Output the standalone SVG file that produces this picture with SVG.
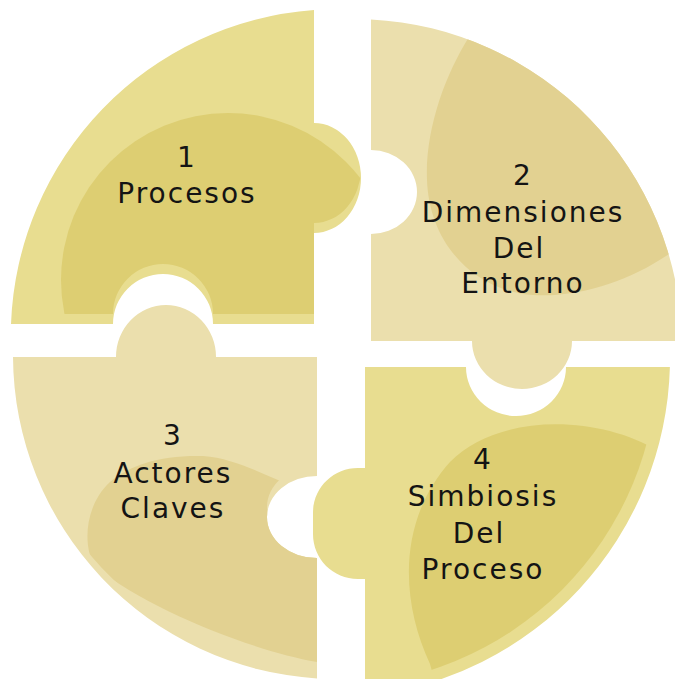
<svg xmlns="http://www.w3.org/2000/svg" width="675" height="679" viewBox="0 0 675 679">
  <style>
    .p14 { fill: #e8dd90; }
    .d14 { fill: #ddce72; }
    .p23 { fill: #ebdfad; }
    .d23 { fill: #e2d191; }
    .lbl { font-family: "DejaVu Sans", "Liberation Sans", sans-serif; font-size: 28px; letter-spacing: 2px; fill: #141414; text-anchor: middle; }
  </style>
  <defs>
    <path id="s1" d="M314,10 L314,123 A47,55 0 1 1 314,233 L314,324 L213,324 A50,50 0 1 0 113,324 L11,324 A327,327 0 0 1 314,10 Z"/>
    <path id="s2" d="M371,19.4 A328,328 0 0 1 682,341 L572,341 A50,48 0 1 1 472,341 L371,341 L371,234 A46,42 0 1 0 371,150 Z"/>
    <path id="s3" d="M13,357 L116,357 A50,52 0 1 1 216,357 L317,357 L317,476 A50,41 0 1 0 317,558 L317,678.4 A324,324 0 0 1 13,357 Z"/>
    <path id="s4" d="M365,367 L466,367 A50,49 0 1 0 566,367 L669.9,367 A340,340 0 0 1 365,696 L365,579 L358,579 C333,579 313,559 313,534 L313,513 C313,488 333,468 358,468 L365,468 Z"/>
    <clipPath id="c1"><use href="#s1"/></clipPath>
    <clipPath id="c1up"><use href="#s1" transform="translate(0,-10)"/></clipPath>
    <clipPath id="c2"><use href="#s2"/></clipPath>
    <clipPath id="c3"><use href="#s3"/></clipPath>
    <clipPath id="c3up"><use href="#s3" transform="translate(0,-10)"/></clipPath>
    <clipPath id="c4"><use href="#s4"/></clipPath>
    <clipPath id="c4in"><circle cx="330" cy="358" r="328"/></clipPath>
  </defs>

  <g id="node1">
    <use href="#s1" class="p14"/>
    <g clip-path="url(#c1)">
      <circle cx="228" cy="280" r="167" class="d14" clip-path="url(#c1up)"/>
    </g>
    <text class="lbl" x="187" y="167">1</text>
    <text class="lbl" x="187" y="203">Procesos</text>
  </g>

  <g id="node2">
    <use href="#s2" class="p23"/>
    <g clip-path="url(#c2)">
      <path class="d23" d="M478,18 L469,37 C445,75 425,130 427,180 C429,240 470,290 533,295 C580,298 630,280 666,256 L700,235 L700,0 L480,0 Z"/>
    </g>
    <text class="lbl" x="523" y="185">2</text>
    <text class="lbl" x="523" y="222">Dimensiones</text>
    <text class="lbl" x="519" y="258">Del</text>
    <text class="lbl" x="523" y="293">Entorno</text>
  </g>

  <g id="node3">
    <use href="#s3" class="p23"/>
    <g clip-path="url(#c3)">
      <path class="d23" clip-path="url(#c3up)" d="M317,662 C250,650 150,610 95,567 C82,545 85,505 110,482 C130,465 160,455 203,456 C230,458 255,470 278,480 L340,505 L340,700 L317,700 Z"/>
    </g>
    <text class="lbl" x="173" y="445">3</text>
    <text class="lbl" x="173" y="483">Actores</text>
    <text class="lbl" x="173" y="518">Claves</text>
  </g>

  <g id="node4">
    <use href="#s4" class="p14"/>
    <g clip-path="url(#c4)">
      <path class="d14" clip-path="url(#c4in)" d="M440,700 L430,664 C400,600 398,520 450,462 C500,412 600,415 660,452 L700,470 L700,700 Z"/>
    </g>
    <text class="lbl" x="483" y="469">4</text>
    <text class="lbl" x="483" y="506">Simbiosis</text>
    <text class="lbl" x="479" y="543">Del</text>
    <text class="lbl" x="483" y="579">Proceso</text>
  </g>

  <g id="connectors"></g>
</svg>
